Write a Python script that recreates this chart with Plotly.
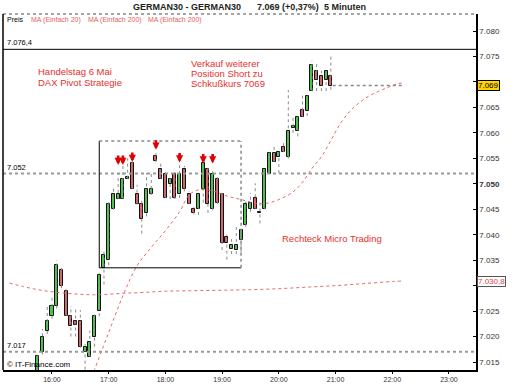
import plotly.graph_objects as go

DAY = "2013-05-06 "

# ---------------- data ----------------
candle_times = ["15:45","15:50","15:55","16:00","16:05","16:10","16:15","16:20","16:25","16:30",
                "16:35","16:40","16:45","16:50","16:55","17:00","17:05","17:10","17:15","17:20",
                "17:25","17:30","17:35","17:40","17:45","17:50","17:55","18:00","18:05","18:10",
                "18:15","18:20","18:25","18:30","18:35","18:40","18:45","18:50","18:55","19:00",
                "19:05","19:10","19:15","19:20","19:25","19:30","19:35","19:40","19:45","19:50",
                "19:55","20:00","20:05","20:10","20:15","20:20","20:25","20:30","20:35","20:40",
                "20:45","20:50","20:55"]
open_ = [7012.0,7017.0,7021.0,7024.0,7026.0,7033.0,7029.0,7024.0,7023.0,7023.0,
         7017.0,7016.0,7020.0,7025.0,7033.5,7035.0,7045.0,7047.0,7047.0,7051.0,
         7054.0,7048.0,7046.0,7044.3,7048.0,7055.5,7053.0,7052.0,7050.0,7052.0,
         7048.0,7053.0,7048.0,7045.0,7045.0,7049.0,7053.0,7045.0,7051.0,7048.0,
         7039.5,7037.2,7037.0,7039.0,7042.0,7045.0,7047.2,7044.3,7045.0,7052.0,
         7056.0,7055.2,7057.2,7055.2,7061.0,7060.3,7064.4,7064.3,7068.2,7072.2,
         7071.2,7070.3,7071.2]
high = [7016.5,7021.5,7026.0,7028.0,7035.0,7033.5,7029.5,7026.0,7025.3,7025.2,
        7018.5,7021.2,7024.3,7032.4,7036.9,7046.5,7049.2,7052.0,7053.7,7055.0,
        7055.0,7049.8,7046.9,7052.1,7052.1,7056.3,7054.5,7052.3,7051.5,7052.3,
        7054.1,7053.5,7048.5,7045.4,7048.5,7054.1,7053.3,7052.5,7051.5,7048.5,
        7040.0,7039.4,7042.0,7041.2,7046.5,7048.2,7050.1,7046.3,7053.2,7056.5,
        7057.3,7056.5,7058.3,7068.4,7063.2,7063.2,7067.3,7067.3,7074.2,7073.5,
        7072.2,7072.2,7075.3]
low = [7011.0,7016.5,7020.5,7023.5,7025.5,7029.5,7024.0,7020.0,7020.0,7017.8,
       7013.5,7016.0,7018.0,7024.0,7030.2,7034.0,7044.9,7047.0,7047.0,7051.0,
       7049.0,7045.9,7040.2,7043.6,7047.8,7054.3,7051.0,7047.2,7047.0,7047.0,
       7047.2,7048.5,7046.0,7044.0,7043.9,7046.3,7044.3,7044.8,7046.0,7037.0,
       7035.1,7036.2,7036.2,7036.5,7041.5,7044.5,7045.0,7042.2,7045.0,7052.0,
       7054.3,7052.1,7056.2,7055.0,7060.0,7059.3,7063.2,7063.3,7068.2,7068.2,
       7068.2,7068.2,7068.5]
close = [7016.1,7020.0,7023.0,7026.0,7034.0,7030.0,7024.0,7022.0,7022.2,7018.0,
         7018.0,7019.0,7024.0,7032.0,7036.0,7046.0,7048.0,7048.0,7051.0,7051.3,
         7049.0,7046.0,7043.0,7049.0,7049.0,7054.5,7051.0,7047.2,7051.0,7047.2,
         7052.0,7049.0,7046.0,7044.3,7048.0,7054.0,7046.0,7052.0,7046.2,7038.3,
         7038.4,7038.0,7038.0,7041.0,7046.0,7046.2,7045.0,7044.5,7053.0,7056.0,
         7054.3,7056.2,7056.2,7060.3,7061.4,7063.2,7063.2,7067.3,7073.3,7070.3,
         7069.3,7072.2,7069.3]

ma20_times = ["16:40","16:45","17:00","17:15","17:30","17:45","18:00","18:15","18:25","18:35",
              "18:50","19:05","19:20","19:35","19:45","20:00","20:15","20:25","20:35","20:45",
              "20:55","21:05","21:15","21:25","21:35","21:45","21:55","22:05","22:10"]
ma20 = [7011.0,7013.5,7020.8,7028.0,7033.9,7037.5,7040.8,7044.5,7047.8,7048.8,
        7048.6,7047.6,7046.9,7046.2,7046.1,7046.9,7048.4,7050.3,7053.0,7055.3,
        7058.5,7061.8,7064.2,7065.9,7067.2,7068.1,7068.9,7069.6,7069.8]

ma200_times = ["15:15","15:30","15:45","16:00","16:15","16:30","16:45","17:00","17:15","17:30",
               "18:00","18:30","19:00","19:30","20:00","20:30","21:00","21:30","22:00","22:10"]
ma200 = [7030.5,7029.8,7029.2,7028.8,7028.5,7028.3,7028.2,7028.3,7028.5,7028.6,
         7028.9,7029.0,7029.1,7029.2,7029.4,7029.7,7030.0,7030.4,7030.8,7030.9]

arrow_times = ["17:10","17:15","17:25","17:50","18:15","18:40","18:50"]
arrow_tips = [7053.7,7053.7,7054.3,7056.7,7054.2,7054.0,7054.0]

level_top = 7076.4
level_mid = 7052.0
level_low = 7017.0
last_price = 7069.3
ma200_last = 7030.8
box_start, box_end = "16:50", "19:20"
box_high, box_low = 7058.4, 7033.5

y_ticks = [7015, 7020, 7025, 7030, 7035, 7040, 7045, 7050, 7055, 7060, 7065, 7070, 7075, 7080]
y_ticks_hidden = [7030, 7070]   # covered by the value boxes on the axis
x_ticks = ["16:00", "17:00", "18:00", "19:00", "20:00", "21:00", "22:00", "23:00"]

header_parts = ["GERMAN30 - GERMAN30", "7.069 (+0,37%)", "5 Minuten"]
legend_items = ["Preis", "MA (Einfach 20)", "MA (Einfach 200)", "MA (Einfach 200)"]
note_left = ["Handelstag 6 Mai", "DAX Pivot Strategie"]
note_top = ["Verkauf weiterer", "Position Short zu", "Schkußkurs 7069"]
note_box = "Rechteck Micro Trading"

# ---------------- helpers ----------------
def T(s):
    return DAY + s

def de_num(v, dec=0):
    s = f"{v:,.{dec}f}"
    return s.replace(",", "X").replace(".", ",").replace("X", ".")

W, H = 512, 384
L_, R_, T_, B_ = 3, 476, 14, 370
def px(x):
    return (x - L_) / (R_ - L_)
def py(y):
    return (B_ - y) / (B_ - T_)

RED = "#e8302c"
GREEN_BODY = "#44cc44"
RED_BODY = "#e06060"
FONT = "Liberation Sans"

fig = go.Figure()

# wicks
wx, wy = [], []
for t, h, l in zip(candle_times, high, low):
    wx += [T(t), T(t), None]
    wy += [l, h, None]
fig.add_trace(go.Scatter(x=wx, y=wy, mode="lines",
                         line=dict(color="#8a8a8a", width=1, dash="dot"),
                         hoverinfo="skip", showlegend=False))

# bodies
base = [min(o, c) for o, c in zip(open_, close)]
hgt = [abs(c - o) for o, c in zip(open_, close)]
cols = [GREEN_BODY if c >= o else RED_BODY for o, c in zip(open_, close)]
fig.add_trace(go.Bar(x=[T(t) for t in candle_times], y=hgt, base=base,
                     width=3.2 * 60000, marker=dict(color=cols, line=dict(color="#111", width=1)),
                     showlegend=False))

# moving averages
fig.add_trace(go.Scatter(x=[T(t) for t in ma20_times], y=ma20, mode="lines",
                         line=dict(color="#e86a6a", width=1, dash="dot", shape="spline"),
                         showlegend=False))
fig.add_trace(go.Scatter(x=[T(t) for t in ma200_times], y=ma200, mode="lines",
                         line=dict(color="#e86a6a", width=1, dash="dot", shape="spline"),
                         showlegend=False))

shapes = []
# horizontal levels
shapes.append(dict(type="line", xref="paper", x0=0, x1=1, yref="y", y0=level_top, y1=level_top,
                   line=dict(color="#000", width=1)))
for lv in (level_mid, level_low):
    shapes.append(dict(type="line", xref="paper", x0=0, x1=1, yref="y", y0=lv, y1=lv,
                       line=dict(color="#999", width=2, dash="dot")))
# last price dotted line
shapes.append(dict(type="line", xref="x", x0=T("20:57"), x1=T("22:10"), yref="y",
                   y0=last_price, y1=last_price, line=dict(color="#888", width=1.5, dash="dot")))
# rectangle
shapes.append(dict(type="line", x0=T(box_start), x1=T(box_start), y0=box_low, y1=box_high,
                   line=dict(color="#000", width=1)))
shapes.append(dict(type="line", x0=T(box_start), x1=T(box_end), y0=box_low, y1=box_low,
                   line=dict(color="#000", width=1)))
shapes.append(dict(type="line", x0=T(box_start), x1=T(box_end), y0=box_high, y1=box_high,
                   line=dict(color="#888", width=1.5, dash="dot")))
shapes.append(dict(type="line", x0=T(box_end), x1=T(box_end), y0=box_low, y1=box_high,
                   line=dict(color="#888", width=1.5, dash="dot")))
# frame
shapes.append(dict(type="line", xref="paper", yref="paper", x0=0, x1=1, y0=1, y1=1,
                   line=dict(color="#888", width=1.5, dash="dot")))
shapes.append(dict(type="line", xref="paper", yref="paper", x0=0, x1=0, y0=0, y1=1,
                   line=dict(color="#000", width=1.5)))

ann = []
# header
for txt, cx in zip(header_parts, (187, 288, 345)):
    ann.append(dict(text=f"<b>{txt}</b>", xref="paper", yref="paper", x=px(cx), y=py(7),
                    xanchor="center", yanchor="middle", showarrow=False,
                    font=dict(family=FONT, size=9, color="#222")))
# legend row
for txt, lx, col in zip(legend_items, (5, 29, 86, 146), ("#000", "#e86060", "#e86060", "#e86060")):
    ann.append(dict(text=txt, xref="paper", yref="paper", x=px(lx), y=py(19.5),
                    xanchor="left", yanchor="middle", showarrow=False,
                    font=dict(family=FONT, size=7, color=col)))
# level labels
for lv, txt in ((level_top, de_num(level_top, 1)), (level_mid, de_num(level_mid)), (level_low, de_num(level_low))):
    ann.append(dict(text=txt, xref="paper", yref="y", x=px(5), y=lv, xanchor="left", yanchor="bottom",
                    showarrow=False, yshift=0, font=dict(family=FONT, size=7.5, color="#000")))
# notes
for i, txt in enumerate(note_left):
    ann.append(dict(text=txt, xref="paper", yref="paper", x=px(36), y=py(71.7 + 10.6 * i),
                    xanchor="left", yanchor="middle", showarrow=False,
                    font=dict(family=FONT, size=9.5, color=RED)))
for i, txt in enumerate(note_top):
    ann.append(dict(text=txt, xref="paper", yref="paper", x=px(189), y=py(63.3 + 10 * i),
                    xanchor="left", yanchor="middle", showarrow=False,
                    font=dict(family=FONT, size=9.5, color=RED)))
ann.append(dict(text=note_box, xref="paper", yref="paper", x=px(280), y=py(238),
                xanchor="left", yanchor="middle", showarrow=False,
                font=dict(family=FONT, size=9.5, color=RED)))
ann.append(dict(text="© IT-Finance.com", xref="paper", yref="paper", x=px(5), y=py(364),
                xanchor="left", yanchor="middle", showarrow=False,
                font=dict(family=FONT, size=8, color="#000")))
# arrows
for t, tip in zip(arrow_times, arrow_tips):
    ann.append(dict(x=T(t), y=tip, xref="x", yref="y", text="", showarrow=True,
                    ax=0, ay=-11, arrowhead=2, arrowsize=0.55, arrowwidth=2.6, arrowcolor="#e00000"))
# right-axis labels
ann.append(dict(text=de_num(7069), xref="paper", yref="y", x=1, y=last_price, xanchor="left",
                yanchor="middle", xshift=1, showarrow=False, bgcolor="#ffd400", bordercolor="#000",
                borderwidth=1, borderpad=0, font=dict(family=FONT, size=8, color="#000")))
ann.append(dict(text=de_num(ma200_last, 1), xref="paper", yref="y", x=1, y=ma200_last, xanchor="left",
                yanchor="middle", xshift=1, showarrow=False, bgcolor="#fff", bordercolor="#555",
                borderwidth=1, borderpad=0, font=dict(family=FONT, size=8, color="#e04040")))

tick_text = []
for v in y_ticks:
    if v in y_ticks_hidden:
        tick_text.append(" ")
    elif v == 7050:
        tick_text.append(f"<b>{de_num(v)}</b>")
    else:
        tick_text.append(de_num(v))

fig.update_layout(
    width=W, height=H, margin=dict(l=L_, r=W - R_, t=T_, b=H - B_, pad=0),
    paper_bgcolor="#fff", plot_bgcolor="#fff", showlegend=False, bargap=0,
    shapes=shapes, annotations=ann,
    xaxis=dict(type="date", range=[T("15:08:10"), T("23:28:35")],
               tickvals=[T(t) for t in x_ticks], ticktext=x_ticks,
               ticks="outside", ticklen=2, tickcolor="#000", showline=True, linecolor="#000",
               linewidth=1.5, showgrid=False, zeroline=False,
               tickfont=dict(family=FONT, size=7, color="#333"), automargin=False, fixedrange=True),
    yaxis=dict(side="right", range=[7013.43, 7083.34], tickvals=y_ticks, ticktext=tick_text,
               ticks="inside", ticklen=3, tickcolor="#000", showline=True, linecolor="#000",
               linewidth=1.5, showgrid=False, zeroline=False,
               tickfont=dict(family=FONT, size=8, color="#333"), automargin=False, fixedrange=True),
)

fig.write_html("out.html")
